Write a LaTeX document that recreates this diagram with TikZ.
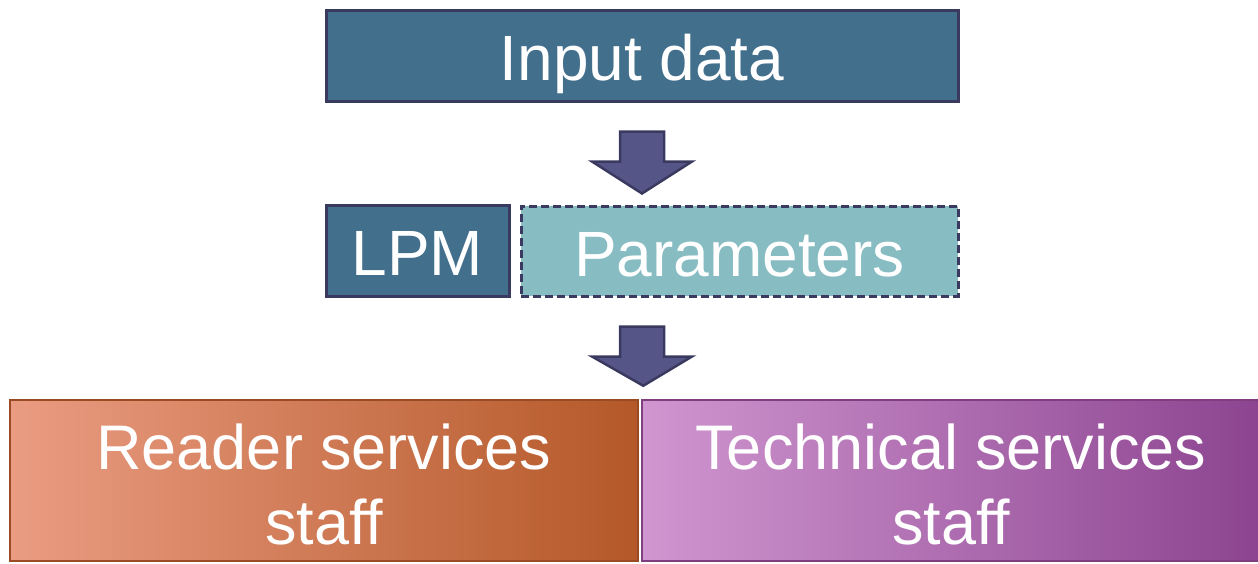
\documentclass[tikz,border=0pt]{standalone}
\usepackage{fontspec}
\setmainfont{Liberation Sans}
\usetikzlibrary{calc}
\definecolor{boxblue}{HTML}{426F8C}
\definecolor{navyline}{HTML}{3A3A60}
\definecolor{paramfill}{HTML}{86BCC2}
\definecolor{arrowfill}{HTML}{555588}
\definecolor{orA}{HTML}{EA9C82}
\definecolor{orB}{HTML}{E07C56}
\definecolor{orC}{HTML}{B45828}
\definecolor{orLine}{HTML}{9A4A24}
\definecolor{puA}{HTML}{D096D0}
\definecolor{puB}{HTML}{B86CB8}
\definecolor{puC}{HTML}{8C4490}
\definecolor{puLine}{HTML}{7E3E80}
\newcommand{\tallstrut}{\rule{0pt}{54pt}}
\tikzset{
  darkbox/.style={draw=navyline, line width=3pt, fill=boxblue, text=white,
    inner sep=0pt, text height=50pt, text depth=0pt, font=\fontsize{64}{75}\selectfont},
  parambox/.style={draw=navyline, line width=3pt, fill=paramfill, text=white,
    dash pattern=on 8pt off 4pt, inner sep=0pt, text height=50pt, text depth=0pt,
    font=\fontsize{64}{75}\selectfont},
  staffbox/.style={line width=2.5pt, text=white, inner sep=0pt, align=center,
    font=\fontsize{63}{75}\selectfont},
  bigarrow/.style={draw=navyline, line width=2.5pt, fill=arrowfill, line join=miter},
}
\begin{document}
\begin{tikzpicture}[x=1pt,y=-1pt]
\useasboundingbox (0,0) rectangle (1258,563);

\node[darkbox, minimum width=632pt, minimum height=91pt] (in) at (642,55.5) {Input data};
\node[darkbox, minimum width=183pt, minimum height=91pt] (lpm) at (417.5,250.5) {LPM};
\node[parambox, minimum width=437pt, minimum height=90pt] (par) at (739.5,251) {Parameters};

\node[staffbox, draw=orLine, left color=orA, middle color=orB, right color=orC,
  minimum width=628pt, minimum height=161pt] (rs) at (324,480.5)
  {\tallstrut Reader services\\staff};
\node[staffbox, draw=puLine, left color=puA, middle color=puB, right color=puC,
  minimum width=618pt, minimum height=161pt] (ts) at (951,480.5)
  {\tallstrut Technical services\\staff};

% arrow 1
\coordinate (a1) at ($(in.south)+(0,29)$);
\draw[bigarrow] (a1) ++(-22,0) -- ++(44,0) -- ++(0,30) -- ++(28,0)
  -- ($(in.south)+(0,91)$) -- ($(a1)+(-50,30)$) -- ($(a1)+(-22,30)$) -- cycle;
% arrow 2
\coordinate (a2) at ($(in.south)+(0,224)$);
\draw[bigarrow] (a2) ++(-22,0) -- ++(44,0) -- ++(0,30) -- ++(28,0)
  -- ($(rs.north east)+(4,-13)$) -- ($(a2)+(-50,30)$) -- ($(a2)+(-22,30)$) -- cycle;
\end{tikzpicture}
\end{document}
